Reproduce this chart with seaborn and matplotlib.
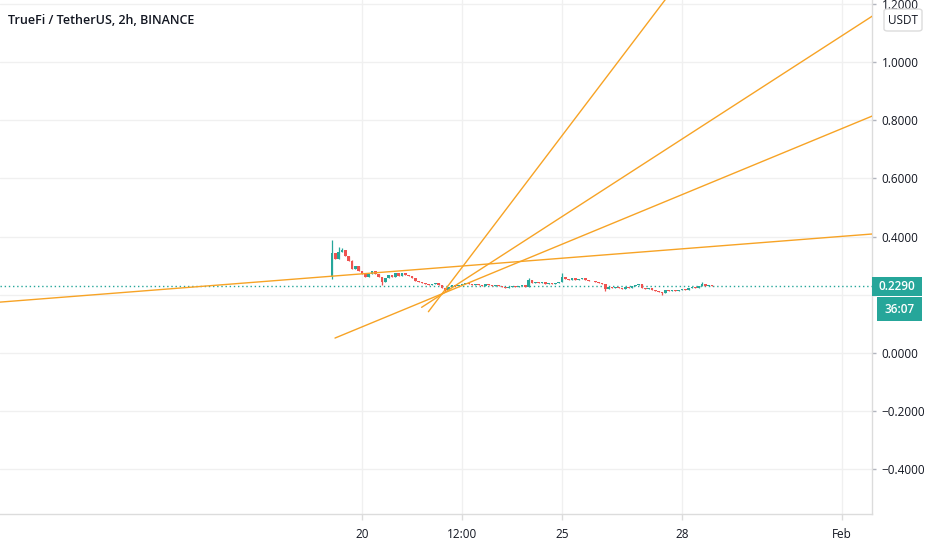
import numpy as np
import pandas as pd
import matplotlib
matplotlib.use("Agg")
import matplotlib.pyplot as plt
import matplotlib.transforms as mtransforms
from matplotlib.patches import Rectangle, FancyBboxPatch
import seaborn as sns

# ---------------- data ----------------
TITLE = "TrueFi / TetherUS, 2h, BINANCE"
# x axis in "day of January" (Feb 1 == 32)
first_candle_day = 19.25          # Jan 19, 06:00
candle_step_days = 2 / 24         # 2h candles
first_open = 0.261
closes = [
    0.344, 0.323, 0.347, 0.354, 0.333, 0.316, 0.289, 0.299, 0.282, 0.271,
    0.261, 0.271, 0.282, 0.271, 0.261, 0.244, 0.258, 0.268, 0.261, 0.275,
    0.265, 0.275, 0.268, 0.265, 0.258, 0.247, 0.244, 0.241, 0.237, 0.234,
    0.237, 0.241, 0.234, 0.223, 0.216, 0.227, 0.234, 0.230, 0.234,
    0.237, 0.241, 0.237, 0.234, 0.237, 0.234, 0.230, 0.237, 0.234, 0.230,
    0.234, 0.230, 0.227, 0.223, 0.227, 0.230, 0.227, 0.230, 0.234, 0.227,
    0.251, 0.241, 0.244, 0.241, 0.244, 0.237, 0.241, 0.237, 0.241, 0.244,
    0.261, 0.254, 0.251, 0.258, 0.251, 0.254, 0.258, 0.251, 0.247,
    0.247, 0.244, 0.241, 0.237, 0.220, 0.227, 0.223, 0.227, 0.223, 0.220,
    0.227, 0.223, 0.230, 0.234, 0.237, 0.223, 0.220, 0.223, 0.216, 0.213,
    0.210, 0.206, 0.216, 0.213, 0.216, 0.213, 0.216, 0.220, 0.216, 0.223,
    0.227, 0.223, 0.230, 0.237, 0.230, 0.234, 0.230, 0.229,
]
high_wicks = {0: 0.388, 2: 0.364, 3: 0.362, 6: 0.318, 59: 0.258, 69: 0.275, 111: 0.244}
low_wicks = {0: 0.254, 15: 0.233, 34: 0.210, 82: 0.213, 99: 0.200}

last_price = 0.229
last_price_label = "0.2290"
countdown_label = "36:07"
currency = "USDT"

# trend lines: start point, a second point on the line, extend both ways or ray
trend_start_day = [10.95, 21.66, 21.49, 19.325]
trend_start_price = [0.175, 0.142, 0.157, 0.0515]
trend_mid_day = [32.75, 27.575, 32.75, 32.75]
trend_mid_price = [0.409, 1.213, 1.157, 0.814]
trend_both_ways = [True, False, False, False]

y_ticks = [-0.4, -0.2, 0.0, 0.2, 0.4, 0.6, 0.8, 1.0, 1.2]
x_tick_days = [20, 22.5, 25, 28, 32]
x_tick_labels = ["20", "12:00", "25", "28", "Feb"]

# ---------------- style ----------------
sns.set_theme(style="white")
plt.rcParams["font.family"] = ["Open Sans", "DejaVu Sans"]

UP = "#26A69A"
DOWN = "#EF5350"
ORANGE = "#F7A325"
GRID = "#F0F0F0"
BORDER = "#DCDCDC"
TEXT = "#131722"

W, H = 932, 550
fig = plt.figure(figsize=(W / 100, H / 100), dpi=100)
fig.patch.set_facecolor("white")
ax = fig.add_axes([0, 36 / H, 872 / W, 514 / H])
ax.set_facecolor("white")
ax.set_xlim(10.95, 32.75)
ax.set_ylim(-0.553, 1.213)

# grid
ax.set_yticks(y_ticks)
ax.set_xticks(x_tick_days)
ax.grid(True, color=GRID, linewidth=1)
ax.set_axisbelow(True)

# candles
n = len(closes)
opens = [first_open] + closes[:-1]
df = pd.DataFrame({
    "day": [first_candle_day + i * candle_step_days for i in range(n)],
    "open": opens,
    "close": closes,
})
df["high"] = [high_wicks.get(i, max(o, c)) for i, (o, c) in enumerate(zip(df.open, df.close))]
df["low"] = [low_wicks.get(i, min(o, c)) for i, (o, c) in enumerate(zip(df.open, df.close))]
df["color"] = np.where(df.close >= df.open, UP, DOWN)

ax.vlines(df.day, df.low, df.high, colors=df.color, linewidth=0.9, zorder=3)
body = (df.close - df.open).to_numpy()
body = np.where(np.abs(body) < 0.002, 0.002, body)
ax.bar(df.day, body, bottom=df.open, width=0.066, color=df.color,
       linewidth=0, zorder=3)

# trend lines
for sd, sp, md, mp, both in zip(trend_start_day, trend_start_price,
                                 trend_mid_day, trend_mid_price, trend_both_ways):
    dx, dy = md - sd, mp - sp
    x0, y0 = (sd - 10 * dx, sp - 10 * dy) if both else (sd, sp)
    x1, y1 = sd + 10 * dx, sp + 10 * dy
    sns.lineplot(x=[x0, x1], y=[y0, y1], ax=ax, color=ORANGE, linewidth=1.0,
                 sort=False, zorder=4, estimator=None)

# last price dotted line
ax.axhline(last_price, color=UP, linewidth=1, linestyle=(0, (1, 2)), zorder=2)

# axes styling
ax.yaxis.tick_right()
ax.set_yticklabels(["" if abs(v - 0.2) < 1e-9 else f"{v:.4f}".replace("-", "\u2212")
                    for v in y_ticks])
ax.set_xticklabels(x_tick_labels)
ax.tick_params(axis="y", which="both", right=True, left=False, length=3, width=1,
               color="#B2B5BE", pad=4, labelsize=8.5, labelcolor=TEXT)
ax.tick_params(axis="x", which="both", bottom=True, length=4, width=1,
               color=BORDER, pad=6, labelsize=8.5, labelcolor=TEXT)
for s in ["top", "left"]:
    ax.spines[s].set_visible(False)
for s in ["right", "bottom"]:
    ax.spines[s].set_color(BORDER)
    ax.spines[s].set_linewidth(1)
ax.set_xlabel("")
ax.set_ylabel("")
if ax.get_legend():
    ax.get_legend().remove()

# last price label boxes
trans = mtransforms.blended_transform_factory(ax.transAxes, ax.transData)
px_x = 1 / 872  # one pixel in axes fraction
px_y = (1.213 + 0.553) / 514  # one pixel in data units
ax.add_patch(Rectangle((1.0, last_price - 9.5 * px_y), 50 * px_x, 19 * px_y,
                       transform=trans, facecolor=UP, edgecolor="none",
                       clip_on=False, zorder=6))
ax.text(1.0 + 25 * px_x, last_price, last_price_label, transform=trans,
        ha="center", va="center", color="white", fontsize=8.5, zorder=7,
        clip_on=False, fontweight="semibold")
ax.add_patch(Rectangle((1.0 + 5 * px_x, last_price - 35 * px_y), 45 * px_x, 24 * px_y,
                       transform=trans, facecolor=UP, edgecolor="none",
                       clip_on=False, zorder=6))
ax.text(1.0 + 27.5 * px_x, last_price - 23 * px_y, countdown_label, transform=trans,
        ha="center", va="center", color="white", fontsize=8.5, zorder=7,
        clip_on=False, fontweight="semibold")

# currency box
fig.patches.append(FancyBboxPatch((884 / W, 1 - 31 / H), 38 / W, 22 / H,
                                  boxstyle="round,pad=0,rounding_size=0.004",
                                  transform=fig.transFigure, facecolor="white",
                                  edgecolor=BORDER, linewidth=1, zorder=8))
fig.text(903 / W, 1 - 20 / H, currency, ha="center", va="center", fontsize=8.5,
         color=TEXT, zorder=9)

# title
fig.text(8 / W, 1 - 20 / H, TITLE, ha="left", va="center", fontsize=9,
         fontweight="semibold", color=TEXT)

fig.savefig("out.png", dpi=100, facecolor="white")
